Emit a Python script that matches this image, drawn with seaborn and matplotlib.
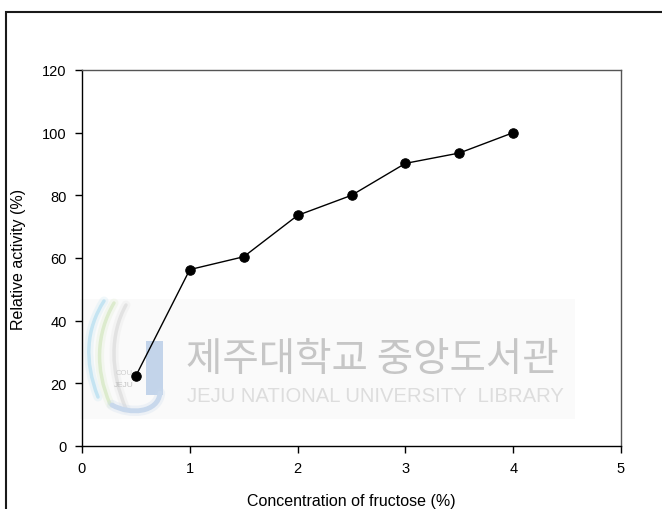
import matplotlib
matplotlib.use("Agg")
import matplotlib.pyplot as plt
from matplotlib.patches import Rectangle, PathPatch
from matplotlib.path import Path
import seaborn as sns
import pandas as pd

# Fructose concentration (%) and relative enzyme activity (%)
concentration = [0.5, 1.0, 1.5, 2.0, 2.5, 3.0, 3.5, 4.0]
activity = [22.4, 56.3, 60.4, 73.6, 80.0, 90.2, 93.5, 100.0]
x_ticks = [0, 1, 2, 3, 4, 5]
y_ticks = [0, 20, 40, 60, 80, 100, 120]

sns.set_theme(style="ticks")
plt.rcParams["font.family"] = ["Liberation Sans", "DejaVu Sans"]

W, H = 662, 510
fig = plt.figure(figsize=(W / 100, H / 100), dpi=100)
fig.patch.set_facecolor("white")


def fx(px):
    return px / W


def fy(py):
    return 1 - py / H


ax = fig.add_axes([fx(82), fy(447), (621 - 82) / W, (447 - 71) / H])
ax.patch.set_alpha(0)

df = pd.DataFrame({"conc": concentration, "act": activity})
sns.lineplot(data=df, x="conc", y="act", ax=ax, color="black", linewidth=1.0,
             marker="o", markersize=6.8, markeredgecolor="black",
             markerfacecolor="black")

ax.set_xlim(0, 5)
ax.set_ylim(0, 120)
ax.set_xticks(x_ticks)
ax.set_yticks(y_ticks)
ax.tick_params(direction="out", length=5, width=1, colors="black",
               labelsize=10.5, pad=6)
for side in ["left", "bottom"]:
    ax.spines[side].set_color("black")
    ax.spines[side].set_linewidth(1.0)
for side in ["top", "right"]:
    ax.spines[side].set_visible(True)
    ax.spines[side].set_color("#555555")
    ax.spines[side].set_linewidth(1.0)

ax.set_xlabel("Concentration of fructose (%)", fontsize=11.5, color="black")
ax.set_ylabel("Relative activity (%)", fontsize=11.5, color="black")
ax.xaxis.set_label_coords(0.5, -0.125)
ax.yaxis.set_label_coords(-0.103, 0.5)

# outer frame around the figure panel
fig.patches.append(Rectangle((fx(6), fy(560)), fx(720), fy(13) - fy(560),
                             transform=fig.transFigure, fill=False,
                             edgecolor="#1a1a1a", linewidth=1.5, zorder=5))

# library stamp behind the plot
fig.patches.append(Rectangle((fx(80), fy(420)), fx(575 - 80), fy(300) - fy(420),
                             transform=fig.transFigure, facecolor="#fafafa",
                             edgecolor="none", zorder=-3))


def curve(points, color, lw, alpha=1.0):
    verts = [(fx(p[0]), fy(p[1])) for p in points]
    codes = [Path.MOVETO] + [Path.CURVE4] * (len(verts) - 1)
    for extra, a in ((4.0, 0.25), (0.0, 1.0)):
        fig.patches.append(PathPatch(Path(verts, codes), transform=fig.transFigure,
                                     facecolor="none", edgecolor=color,
                                     linewidth=lw + extra, alpha=alpha * a,
                                     zorder=-2, capstyle="round"))


curve([(104, 302), (86, 330), (84, 362), (98, 398)], "#c4e4f2", 2.5)
curve([(114, 304), (96, 335), (95, 370), (110, 405)], "#dcebcd", 2.5)
curve([(126, 306), (110, 335), (110, 372), (126, 410)], "#e2e2e2", 2.5)
fig.patches.append(Rectangle((fx(146), fy(396)), fx(17), fy(342) - fy(396),
                             transform=fig.transFigure, facecolor="#c3d4ea",
                             edgecolor="none", zorder=-2))
curve([(160, 394), (158, 414), (130, 416), (112, 406)], "#c8d8ec", 3.5)
fig.text(fx(124), fy(374), "COU", fontsize=5.5, color="#cfcfcf",
         ha="center", va="center", zorder=-1)
fig.text(fx(124), fy(386), "JEJU", fontsize=6, color="#c4c4c4",
         ha="center", va="center", zorder=-1)

fig.text(fx(186), fy(360), "제주대학교 중앙도서관", fontsize=28.5,
         family=["Noto Sans CJK KR", "DejaVu Sans"], fontweight="medium",
         color="#c6c6c6", ha="left", va="center", zorder=-1)
fig.text(fx(187), fy(397), "JEJU NATIONAL UNIVERSITY  LIBRARY", fontsize=14.6,
         family=["Liberation Sans", "DejaVu Sans"], color="#dddddd",
         ha="left", va="center", zorder=-1)

fig.savefig("out.png", dpi=100)
